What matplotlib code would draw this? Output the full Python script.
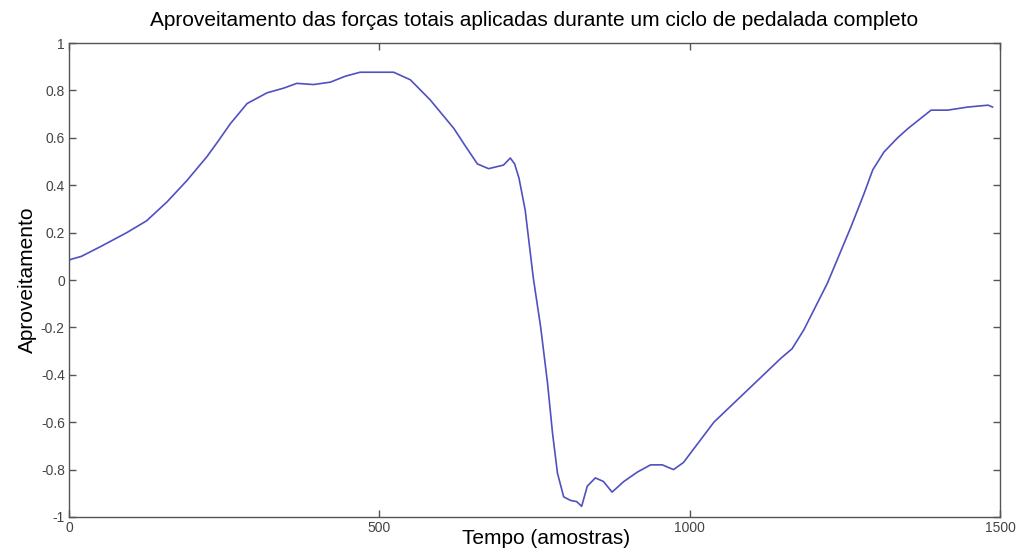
import matplotlib
matplotlib.use("Agg")
import matplotlib.pyplot as plt

plt.rcParams["font.family"] = ["Liberation Sans", "DejaVu Sans"]

# sample index and efficiency
samples = [0, 20, 50, 93, 125, 158, 190, 222, 240, 260, 287, 319, 346, 367, 394,
           421, 445, 469, 523, 550, 582, 620, 640, 658, 676, 700, 711, 718, 725,
           735, 748, 760, 771, 779, 787, 797, 808, 818, 826, 835, 848, 861, 875,
           894, 916, 937, 956, 974, 990, 1039, 1093, 1147, 1165, 1184, 1222,
           1260, 1281, 1295, 1313, 1335, 1352, 1389, 1416, 1448, 1481, 1488]
efficiency = [0.085, 0.10, 0.14, 0.20, 0.25, 0.33, 0.42, 0.52, 0.585, 0.66,
              0.745, 0.79, 0.81, 0.83, 0.825, 0.835, 0.86, 0.877, 0.877, 0.845,
              0.76, 0.64, 0.56, 0.49, 0.47, 0.485, 0.515, 0.49, 0.43, 0.295,
              0.01, -0.2, -0.435, -0.645, -0.815, -0.915, -0.93, -0.935, -0.955,
              -0.87, -0.835, -0.85, -0.895, -0.85, -0.81, -0.78, -0.78, -0.80,
              -0.77, -0.60, -0.465, -0.33, -0.29, -0.21, -0.013, 0.225, 0.365,
              0.465, 0.54, 0.60, 0.64, 0.717, 0.717, 0.73, 0.738, 0.73]

xticks = [0, 500, 1000, 1500]
yticks = [-1, -0.8, -0.6, -0.4, -0.2, 0, 0.2, 0.4, 0.6, 0.8, 1]
ytick_labels = ["-1", "-0.8", "-0.6", "-0.4", "-0.2", "0", "0.2", "0.4", "0.6", "0.8", "1"]

fig = plt.figure(figsize=(10.18, 5.53), dpi=100)
ax = fig.add_axes([0.0678, 0.0651, 0.9145, 0.857])

ax.plot(samples, efficiency, color="#5050c0", linewidth=1.2)

ax.set_xlim(0, 1500)
ax.set_ylim(-1, 1)
ax.set_xticks(xticks)
ax.set_xticklabels([str(t) for t in xticks])
ax.set_yticks(yticks)
ax.set_yticklabels(ytick_labels)

for s in ax.spines.values():
    s.set_color("#555555")
    s.set_linewidth(1.0)
ax.tick_params(direction="in", length=5, width=1, colors="#555555",
               labelcolor="#444444", labelsize=10, top=True, right=True,
               pad=3)

ax.set_title("Aproveitamento das forças totais aplicadas durante um ciclo de pedalada completo",
             fontsize=15, pad=12)
ax.set_xlabel("Tempo (amostras)", fontsize=15, labelpad=-3)
ax.xaxis.set_label_coords(0.512, -0.025, transform=ax.transAxes)
ax.xaxis.label.set_va("top")
ax.set_ylabel("Aproveitamento", fontsize=15, labelpad=3)

fig.savefig("out.png", dpi=100)
plt.close(fig)
